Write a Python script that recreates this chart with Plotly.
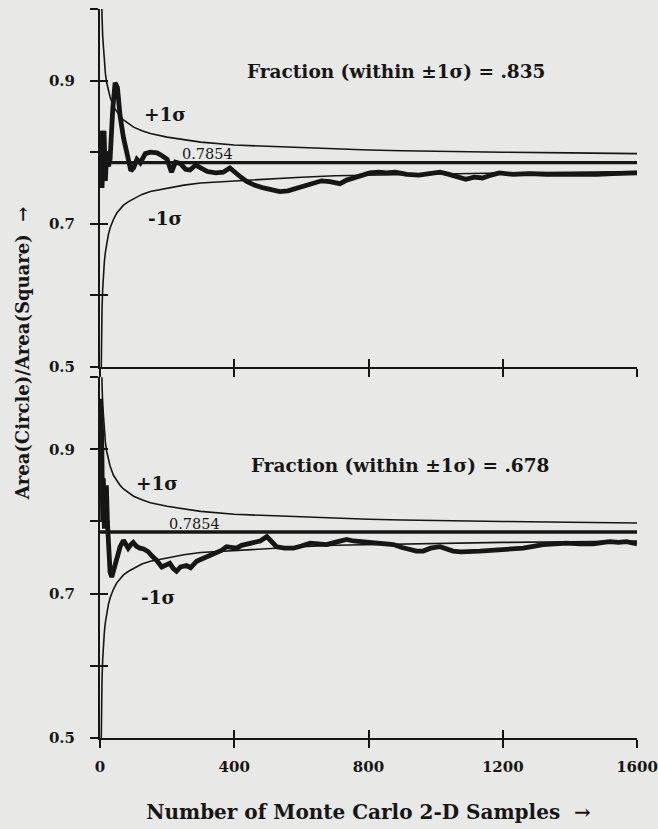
import plotly.graph_objects as go

# ---------------- data ----------------
SIGMA_N = [2, 3, 4, 5, 6, 8, 10, 13, 16, 20, 25, 30, 40, 50, 60, 70, 85, 100, 125,
           150, 200, 250, 300, 400, 500, 600, 700, 800, 900, 1000, 1200, 1400, 1600]
SIGMA_PLUS = [1.139, 1.074, 1.035, 1.009, 0.990, 0.962, 0.944, 0.924, 0.910, 0.897,
              0.885, 0.877, 0.864, 0.856, 0.850, 0.845, 0.840, 0.835, 0.830, 0.826,
              0.821, 0.817, 0.814, 0.810, 0.808, 0.806, 0.804, 0.803, 0.802, 0.801,
              0.800, 0.799, 0.798]
SIGMA_MINUS = [0.432, 0.497, 0.535, 0.562, 0.581, 0.609, 0.627, 0.647, 0.660, 0.674,
               0.685, 0.694, 0.706, 0.715, 0.721, 0.726, 0.731, 0.735, 0.741, 0.745,
               0.750, 0.754, 0.757, 0.760, 0.763, 0.765, 0.767, 0.768, 0.769, 0.770,
               0.771, 0.772, 0.773]
TRUE_VALUE = 0.7854

TOP_N = [2, 4, 6, 9, 12, 16, 20, 25, 30, 38, 45, 52, 60, 70, 84, 92, 100, 110, 120,
         135, 150, 170, 185, 200, 213, 225, 240, 255, 268, 285, 300, 320, 345, 367,
         387, 405, 420, 437, 460, 487, 510, 536, 560, 586, 610, 635, 660, 685, 700,
         715, 735, 755, 780, 804, 830, 854, 880, 914, 950, 983, 1013, 1040, 1070,
         1090, 1115, 1140, 1165, 1190, 1231, 1280, 1330, 1380, 1430, 1480, 1529,
         1570, 1600]
TOP_EST = [0.750, 0.830, 0.750, 0.780, 0.830, 0.760, 0.800, 0.780, 0.790, 0.860,
           0.897, 0.890, 0.850, 0.820, 0.790, 0.774, 0.778, 0.790, 0.785, 0.798,
           0.800, 0.799, 0.795, 0.790, 0.772, 0.786, 0.784, 0.776, 0.775, 0.782,
           0.778, 0.773, 0.771, 0.772, 0.778, 0.772, 0.765, 0.759, 0.754, 0.750,
           0.748, 0.745, 0.746, 0.750, 0.754, 0.757, 0.760, 0.759, 0.758, 0.756,
           0.761, 0.764, 0.768, 0.771, 0.772, 0.771, 0.772, 0.769, 0.768, 0.770,
           0.772, 0.769, 0.764, 0.762, 0.765, 0.764, 0.768, 0.771, 0.769, 0.770,
           0.769, 0.769, 0.768, 0.769, 0.770, 0.771, 0.771]

BOT_N = [2, 5, 8, 10, 13, 16, 19, 22, 26, 30, 35, 42, 50, 60, 70, 78, 84, 92, 99,
         108, 119, 130, 144, 155, 169, 184, 195, 208, 218, 228, 240, 258, 270, 288,
         303, 318, 335, 348, 362, 377, 392, 407, 422, 437, 457, 477, 497, 510, 526,
         550, 576, 600, 626, 650, 675, 700, 720, 735, 755, 775, 800, 824, 850, 874,
         900, 923, 943, 963, 985, 1013, 1035, 1052, 1075, 1092, 1132, 1165, 1191,
         1230, 1261, 1295, 1320, 1355, 1390, 1430, 1470, 1500, 1519, 1545, 1569,
         1600]
BOT_EST = [0.970, 0.920, 0.800, 0.860, 0.790, 0.840, 0.850, 0.800, 0.760, 0.730,
           0.723, 0.735, 0.750, 0.765, 0.774, 0.768, 0.763, 0.768, 0.771, 0.766,
           0.763, 0.762, 0.758, 0.752, 0.746, 0.737, 0.740, 0.742, 0.735, 0.731,
           0.737, 0.739, 0.736, 0.745, 0.748, 0.751, 0.754, 0.756, 0.760, 0.765,
           0.764, 0.763, 0.767, 0.769, 0.771, 0.773, 0.779, 0.772, 0.765, 0.763,
           0.763, 0.766, 0.770, 0.769, 0.768, 0.771, 0.774, 0.775, 0.773, 0.772,
           0.771, 0.770, 0.769, 0.768, 0.764, 0.761, 0.759, 0.759, 0.763, 0.765,
           0.761, 0.759, 0.758, 0.758, 0.759, 0.760, 0.761, 0.762, 0.763, 0.766,
           0.768, 0.769, 0.770, 0.769, 0.769, 0.771, 0.772, 0.771, 0.772, 0.769]

TOP_FRACTION = ".835"
BOT_FRACTION = ".678"

X_TICKS = [0, 400, 800, 1200, 1600]
X_TICK_LABELS = ["0", "400", "800", "1200", "1600"]
Y_TICKS = [0.5, 0.6, 0.7, 0.8, 0.9, 1.0]
Y_TICK_LABELS = ["0.5", "", "0.7", "", "0.9", ""]
X_RANGE = [0, 1600]
Y_RANGE = [0.5, 1.0]

# ---------------- styling ----------------
FONT = "DejaVu Serif"
INK = "#161616"
BG = "#e8e8e6"

fig = go.Figure()

panels = [("x2", "y2", TOP_N, TOP_EST), ("x", "y", BOT_N, BOT_EST)]
for xa, ya, n, est in panels:
    fig.add_trace(go.Scatter(x=SIGMA_N, y=SIGMA_PLUS, xaxis=xa, yaxis=ya, mode="lines",
                             line=dict(color=INK, width=1.6), hoverinfo="skip"))
    fig.add_trace(go.Scatter(x=SIGMA_N, y=SIGMA_MINUS, xaxis=xa, yaxis=ya, mode="lines",
                             line=dict(color=INK, width=1.6), hoverinfo="skip"))
    fig.add_trace(go.Scatter(x=X_RANGE, y=[TRUE_VALUE, TRUE_VALUE], xaxis=xa, yaxis=ya,
                             mode="lines", line=dict(color=INK, width=3.4), hoverinfo="skip"))
    fig.add_trace(go.Scatter(x=n, y=est, xaxis=xa, yaxis=ya, mode="lines",
                             line=dict(color=INK, width=4.8), hoverinfo="skip"))

# dummy traces so the overlay axes (inside half of the crossing ticks) are drawn
for xa, ya in [("x3", "y3"), ("x4", "y4")]:
    fig.add_trace(go.Scatter(x=[X_RANGE[0]], y=[Y_RANGE[0]], xaxis=xa, yaxis=ya,
                             mode="markers", marker=dict(opacity=0), hoverinfo="skip"))

tickfont = dict(family=FONT, size=15, color=INK, weight="bold")
common_x = dict(range=X_RANGE, showgrid=False, zeroline=False, showline=True,
                linecolor=INK, linewidth=2, ticks="outside", ticklen=8, tickwidth=2,
                tickcolor=INK, tickmode="array", tickvals=X_TICKS, tickfont=tickfont,
                automargin=False)
common_y = dict(range=Y_RANGE, showgrid=False, zeroline=False, showline=True,
                linecolor=INK, linewidth=2, ticks="outside", ticklen=8, tickwidth=2,
                tickcolor=INK, tickmode="array", tickvals=Y_TICKS,
                ticktext=Y_TICK_LABELS, tickfont=tickfont, ticklabelstandoff=12,
                automargin=False)
inside_x = dict(range=X_RANGE, showgrid=False, zeroline=False, showline=False,
                ticks="inside", ticklen=8, tickwidth=2, tickcolor=INK,
                tickmode="array", tickvals=X_TICKS, showticklabels=False,
                automargin=False)
inside_y = dict(range=Y_RANGE, showgrid=False, zeroline=False, showline=False,
                ticks="inside", ticklen=8, tickwidth=2, tickcolor=INK,
                tickmode="array", tickvals=Y_TICKS, showticklabels=False,
                automargin=False)

BOT_DOMAIN = [0.0, 0.495]
TOP_DOMAIN = [0.509, 1.0]

fig.update_layout(
    width=658, height=829,
    margin=dict(l=100, r=21, t=9, b=91, autoexpand=False),
    paper_bgcolor=BG, plot_bgcolor=BG,
    showlegend=False,
    font=dict(family=FONT, color=INK),
    xaxis=dict(**common_x, anchor="y", ticktext=X_TICK_LABELS, ticklabelstandoff=6,
               title=dict(text="Number of Monte Carlo 2-D Samples  →",
                          font=dict(family=FONT, size=20, color=INK, weight="bold"),
                          standoff=30)),
    yaxis=dict(**common_y, anchor="x", domain=BOT_DOMAIN),
    xaxis2=dict(**common_x, anchor="y2", showticklabels=False),
    yaxis2=dict(**common_y, anchor="x2", domain=TOP_DOMAIN),
    xaxis3=dict(**inside_x, overlaying="x", anchor="y3"),
    yaxis3=dict(**inside_y, overlaying="y", anchor="x3"),
    xaxis4=dict(**inside_x, overlaying="x2", anchor="y4"),
    yaxis4=dict(**inside_y, overlaying="y2", anchor="x4"),
)

big = dict(family=FONT, size=18.5, color=INK, weight="bold")
small = dict(family=FONT, size=14.5, color=INK)
ann = []
for xa, ya, frac, plus_xy, minus_xy, val_xy, frac_xy in [
        ("x2", "y2", TOP_FRACTION, (194, 0.852), (194, 0.708), (319, 0.797), (882, 0.913)),
        ("x", "y", BOT_FRACTION, (170, 0.853), (173, 0.694), (283, 0.796), (894, 0.877))]:
    ann.append(dict(xref=xa, yref=ya, x=plus_xy[0], y=plus_xy[1], text="+1σ",
                    showarrow=False, font=big))
    ann.append(dict(xref=xa, yref=ya, x=minus_xy[0], y=minus_xy[1], text="-1σ",
                    showarrow=False, font=big))
    ann.append(dict(xref=xa, yref=ya, x=val_xy[0], y=val_xy[1], text=f"{TRUE_VALUE}",
                    showarrow=False, font=small))
    ann.append(dict(xref=xa, yref=ya, x=frac_xy[0], y=frac_xy[1],
                    text=f"Fraction (within ±1σ) = {frac}", showarrow=False, font=big))
ann.append(dict(xref="paper", yref="paper", x=-0.145, y=0.528, textangle=-90,
                text="Area(Circle)/Area(Square)  →", showarrow=False,
                xanchor="center", yanchor="middle",
                font=dict(family=FONT, size=18, color=INK, weight="bold")))
fig.update_layout(annotations=ann)

fig.write_html(
    "out.html",
    config={"displayModeBar": False},
    post_script="document.body.style.margin='0';"
                "document.body.style.background='" + BG + "';",
)
